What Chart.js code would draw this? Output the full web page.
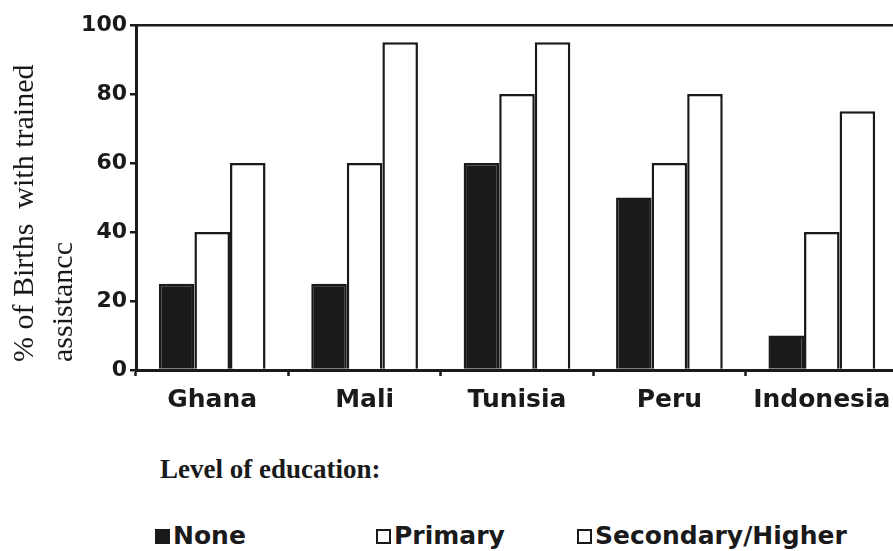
<!DOCTYPE html>
<html>
<head>
<meta charset="utf-8">
<script src="https://cdn.jsdelivr.net/npm/chart.js@4"></script>
<style>
  html, body { margin: 0; padding: 0; background: #fff; width: 893px; height: 551px; overflow: hidden; }
  #wrap { position: absolute; left: 0; top: 0; width: 905px; height: 430px; }
  .ytitle { position: absolute; left: 3px; top: 362px; transform-origin: 0 0; transform: rotate(-90deg);
            font: 30px/39px "Liberation Serif", serif; color: #1a1a1a; white-space: pre; }
  .lvl { position: absolute; left: 160px; top: 454px; font: bold 27px "Liberation Serif", serif; color: #1a1a1a; }
  .leg { position: absolute; top: 521px; font: bold 25px "DejaVu Sans", sans-serif; color: #1a1a1a; white-space: nowrap; }
  .leg i { display: inline-block; width: 15px; height: 15px; border: 2px solid #1a1a1a; box-sizing: border-box; margin-right: 3px; vertical-align: 0px; }
</style>
</head>
<body>
<div id="wrap"><canvas id="cBirths"></canvas></div>
<div class="ytitle" id="ytitle"></div>
<div class="lvl">Level of education:</div>
<div id="legend"></div>
<script>
// ===== Births with trained assistance by education =====
const countries = ['Ghana', 'Mali', 'Tunisia', 'Peru', 'Indonesia'];
const seriesNames = ['None', 'Primary', 'Secondary/Higher'];
const noneVals = [25, 25, 60, 50, 10];
const primaryVals = [40, 60, 80, 60, 40];
const secondaryVals = [60, 95, 95, 80, 75];
const yTicks = [0, 20, 40, 60, 80, 100];
const yTitle = ['% of Births  with trained', 'assistancc'];

const ink = '#1a1a1a';
const fills = [ink, '#fff', '#fff'];
const legendX = [155, 376, 577];

// axis title (two lines, left aligned like the print)
document.getElementById('ytitle').textContent = yTitle.join('\n');

// legend below the chart
const leg = document.getElementById('legend');
seriesNames.forEach((name, i) => {
    const d = document.createElement('div');
    d.className = 'leg';
    d.style.left = legendX[i] + 'px';
    d.innerHTML = `<i style="background:${fills[i]}"></i>${name}`;
    leg.appendChild(d);
});

const ctx = document.getElementById('cBirths').getContext('2d');
const bar = (label, data, i) => ({
    label, data, backgroundColor: fills[i], borderColor: ink, borderWidth: 2.5,
    categoryPercentage: 0.7, barPercentage: 1.0
});

new Chart(ctx, {
    type: 'bar',
    data: { labels: countries, datasets: [
        bar(seriesNames[0], noneVals, 0),
        bar(seriesNames[1], primaryVals, 1),
        bar(seriesNames[2], secondaryVals, 2)
    ]},
    options: { responsive: true, maintainAspectRatio: false, animation: false,
        layout: { padding: { top: 25, right: 7, left: 0, bottom: 0 } },
        scales: {
            x: {
                grid: { display: true, drawOnChartArea: false, offset: true, tickLength: 6, tickColor: ink, tickWidth: 2.5 },
                border: { color: ink, width: 3 },
                ticks: { color: ink, padding: 9, font: { family: 'DejaVu Sans', weight: 'bold', size: 25 } },
                afterFit: s => { s.height = 60; }
            },
            y: {
                min: 0, max: 100,
                afterBuildTicks: s => { s.ticks = yTicks.map(v => ({ value: v })); },
                grid: { drawOnChartArea: true, tickLength: 6, tickColor: ink, lineWidth: 2.5,
                        color: c => c.tick && c.tick.value === 100 ? ink : 'rgba(0,0,0,0)' },
                border: { color: ink, width: 3 },
                ticks: { color: ink, padding: 3, font: { family: 'DejaVu Sans', weight: 'bold', size: 22 } },
                afterFit: s => { s.width = 136; }
            }
        },
        plugins: { legend: { display: false }, tooltip: { enabled: false } }
    }
});
</script>
</body>
</html>
